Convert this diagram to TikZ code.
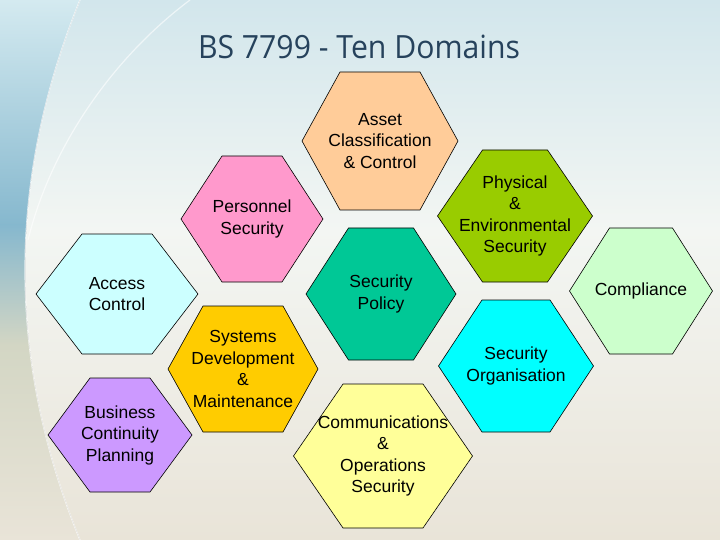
\documentclass[tikz,border=0pt]{standalone}
\usepackage{fontspec}
\setmainfont{Liberation Sans}
\newfontfamily\titlefont{Open Sans}
\usepackage{graphicx}
\definecolor{assetc}{HTML}{FFCC99}
\definecolor{persc}{HTML}{FF99CC}
\definecolor{physc}{HTML}{99CC00}
\definecolor{accc}{HTML}{CCFFFF}
\definecolor{polc}{HTML}{00C896}
\definecolor{compc}{HTML}{CCFFCC}
\definecolor{sysc}{HTML}{FFCC00}
\definecolor{orgc}{HTML}{00FFFF}
\definecolor{busc}{HTML}{CC99FF}
\definecolor{comc}{HTML}{FFFF99}
\definecolor{titlec}{HTML}{26425C}
\definecolor{bgtop}{HTML}{D2E6EC}
\definecolor{bgmid}{HTML}{F3F6F3}
\definecolor{bgbot}{HTML}{E9E4D8}
\definecolor{lbtop}{HTML}{D4EAF0}
\definecolor{lbmid}{HTML}{86B8CE}
\definecolor{lblow}{HTML}{D3D6C4}
\tikzset{
  hexline/.style={draw=black, line width=0.6pt, line join=miter},
  domtext/.style={align=center, inner sep=0pt, text=black,
    font=\fontsize{17.5}{21.5}\selectfont},
  titlestyle/.style={inner sep=0pt, text=titlec,
    font=\titlefont\fontsize{32}{36}\selectfont},
  arcline/.style={draw=white, line width=1.2pt, opacity=0.7}
}
% name, cx, cy, half-width, top half-width, half-height, colour, text
\newcommand{\hexdom}[8]{%
  \draw[hexline, fill=#7] (#2-#4,#3) -- (#2-#5,#3-#6) -- (#2+#5,#3-#6)
     -- (#2+#4,#3) -- (#2+#5,#3+#6) -- (#2-#5,#3+#6) -- cycle;
  \node[domtext] (#1) at (#2,#3) {#8};
}
\begin{document}
\begin{tikzpicture}[x=1pt,y=-1pt]
\useasboundingbox (0,0) rectangle (720,540);
% background
\fill[top color=bgtop, bottom color=bgmid] (0,0) rectangle (720,230);
\fill[top color=bgmid, bottom color=bgbot] (0,230) rectangle (720,540);
\begin{scope}
  \clip (0,0) -- (80,0) .. controls (6.7,180) and (6.7,360) .. (80,540) -- (0,540) -- cycle;
  \fill[top color=lbtop, bottom color=lbmid] (0,0) rectangle (100,225);
  \fill[top color=lbmid, bottom color=lblow] (0,225) rectangle (100,345);
  \fill[top color=lblow, bottom color=bgbot] (0,345) rectangle (100,540);
\end{scope}
\draw[arcline] (80,0) .. controls (6.7,180) and (6.7,360) .. (80,540);
\draw[arcline, opacity=0.6] (190,0) .. controls (110,60) and (50,150) .. (28,240);
% title
\node[titlestyle] (title) at (359,47) {\resizebox{322pt}{\height}{BS 7799 - Ten Domains}};
% domains
\hexdom{asset}{380}{141}{78}{40}{69}{assetc}{Asset\\Classification\\\& Control}
\hexdom{pers}{252}{219}{71}{30}{63}{persc}{Personnel\\Security}
\hexdom{phys}{515}{216}{77.5}{32.5}{66}{physc}{Physical\\\&\\Environmental\\Security}
\hexdom{acc}{117}{294}{81}{35}{60}{accc}{Access\\Control}
\hexdom{pol}{381}{294}{75}{32.5}{66}{polc}{Security\\Policy}
\hexdom{comp}{641}{291}{71.5}{31.5}{63}{compc}{Compliance}
\hexdom{sys}{243}{369}{75}{40}{63}{sysc}{Systems\\Development\\\&\\Maintenance}
\hexdom{org}{516}{366}{77.5}{34}{66}{orgc}{Security\\Organisation}
\hexdom{bus}{120}{435}{72}{30}{57}{busc}{Business\\Continuity\\Planning}
\hexdom{com}{383}{456}{89.5}{40}{72}{comc}{Communications\\\&\\Operations\\Security}
\end{tikzpicture}
\end{document}
